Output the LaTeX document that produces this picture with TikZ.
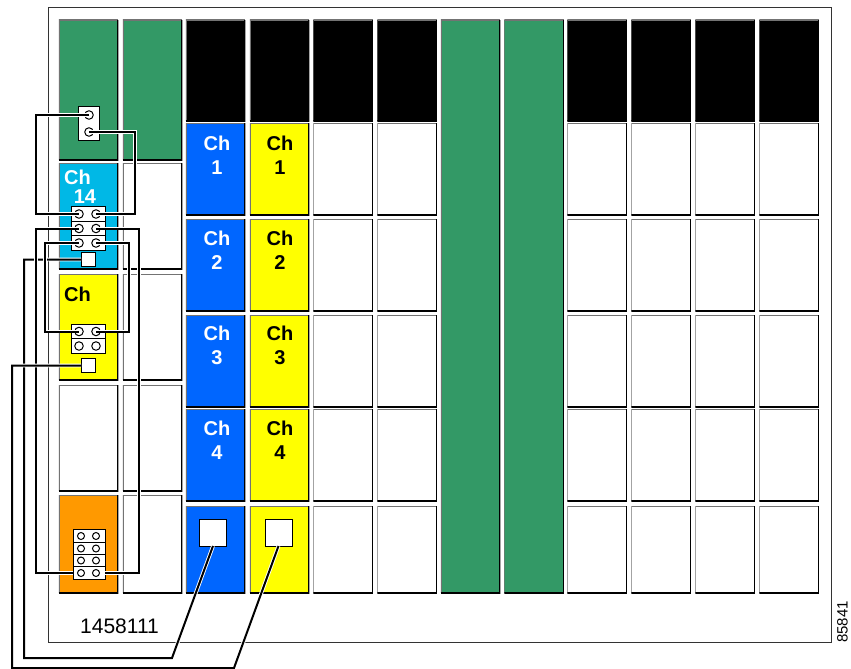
\documentclass[tikz,border=0pt]{standalone}
\usepackage{fontspec}
\setmainfont{Liberation Sans}
\definecolor{slotgreen}{RGB}{51,153,102}
\definecolor{slotblue}{RGB}{0,102,255}
\definecolor{slotcyan}{RGB}{0,184,230}
\definecolor{slotorange}{RGB}{255,153,0}
\definecolor{slotyellow}{RGB}{255,255,0}
\usetikzlibrary{positioning}
\tikzset{
  tilebox/.style={fill=white, inner sep=0pt, outer sep=0pt,
    minimum width=59.5pt,
    path picture={
      \draw[black!55, line width=2.4pt] (path picture bounding box.south west)
        -- (path picture bounding box.north west) -- (path picture bounding box.north east);
      \draw[black, line width=2pt] (path picture bounding box.south west)
        -- (path picture bounding box.south east) -- (path picture bounding box.north east);
    }},
  chlabel/.style={align=center, inner sep=0pt, font=\fontsize{20}{24}\selectfont\bfseries},
  pinrow/.style={draw, line width=1pt, fill=white, inner sep=0pt, outer sep=0pt},
  pin/.style={circle, draw, line width=1pt, fill=white, inner sep=0pt, minimum size=8.5pt},
  portbox/.style={draw, line width=1pt, fill=white, inner sep=0pt, outer sep=0pt},
  wire/.style={preaction={draw, white, line width=3.8pt}, draw, black, line width=2pt},
}
\begin{document}
\begin{tikzpicture}[x=1pt, y=-1pt]
  \useasboundingbox (0,0) rectangle (851,669);
  % Chassis
  \node[draw=black!80, line width=0.9pt, inner sep=0pt, minimum width=783pt, minimum height=635pt] (chassis) at (439.5,324.5) {};

  % Top row
  \foreach \cx/\nm in {215.5/c, 279.5/d, 343/e, 407/f, 597/i, 661/j, 725/k, 789/l}
    \node[tilebox, fill=black, minimum height=101pt] (top\nm) at (\cx,70.5) {};
  \foreach \cx/\nm in {88.5/a, 152.5/b}
    \node[tilebox, fill=slotgreen, minimum height=140pt] (top\nm) at (\cx,90) {};
  \foreach \cx/\nm in {470.5/g, 534/h}
    \node[tilebox, fill=slotgreen, minimum height=573pt] (top\nm) at (\cx,306.5) {};

  % Empty slots
  \foreach \cx/\nm in {343/e, 407/f, 597/i, 661/j, 725/k, 789/l}
    \foreach \cy/\hgt/\rw in {169/92/1, 265/92/2, 361/92/3, 455/92/4, 549.5/87/5}
      \node[tilebox, minimum height=\hgt pt] (slot\nm\rw) at (\cx,\cy) {};
  \foreach \cy/\hgt/\rw in {216/106/1, 327/106/2, 438/106/3, 544/98/4}
    \node[tilebox, minimum height=\hgt pt] (slotb\rw) at (152.5,\cy) {};

  % Left column
  \node[tilebox, fill=slotcyan, minimum height=106pt] (cyan) at (88.5,216) {};
  \node[tilebox, fill=slotyellow, minimum height=106pt] (yel) at (88.5,327) {};
  \node[tilebox, minimum height=106pt] (emptya) at (88.5,438) {};
  \node[tilebox, fill=slotorange, minimum height=98pt] (orange) at (88.5,544) {};

  % Blue and yellow columns
  \foreach \cy/\hgt/\rw in {169/92/1, 265/92/2, 361/92/3, 455/92/4, 549.5/87/5} {
    \node[tilebox, fill=slotblue, minimum height=\hgt pt] (blue\rw) at (215.5,\cy) {};
    \node[tilebox, fill=slotyellow, minimum height=\hgt pt] (ylw\rw) at (279.5,\cy) {};
  }
  \foreach \cy/\nr in {155/1, 250/2, 345/3, 440/4} {
    \node[chlabel, white] (bl\nr) at (217,\cy) {Ch\\\nr};
    \node[chlabel] (yl\nr) at (280,\cy) {Ch\\\nr};
  }
  \node[chlabel, white, anchor=west] (chcyan) at (64,177) {Ch};
  \node[chlabel, white] (numcyan) at (85,197) {14};
  \node[chlabel, anchor=west] (chyel) at (64,294) {Ch};

  % Pin blocks
  \node[pinrow, minimum width=21pt, minimum height=34pt] (topblock) at (88.5,123) {};
  \node[pin] (ta) at (89,115) {};
  \node[pin] (tb) at (89,132) {};
  \foreach \rw/\cy in {1/214, 2/228.5, 3/243} {
    \node[pinrow, minimum width=34pt, minimum height=14.5pt] (crow\rw) at (88,\cy) {};
    \node[pin] (cl\rw) at (79,\cy) {};
    \node[pin] (cr\rw) at (96,\cy) {};
  }
  \foreach \rw/\cy in {1/331.5, 2/346} {
    \node[pinrow, minimum width=34pt, minimum height=14.5pt] (yrow\rw) at (88,\cy) {};
    \node[pin] (yl\rw) at (79,\cy) {};
    \node[pin] (yr\rw) at (96,\cy) {};
  }
  \foreach \rw/\cy in {1/536, 2/548.5, 3/560.5, 4/573} {
    \node[pinrow, minimum width=32pt, minimum height=12.3pt] (orow\rw) at (89,\cy) {};
    \node[pin, minimum size=7pt] (ol\rw) at (81,\cy) {};
    \node[pin, minimum size=7pt] (or\rw) at (96,\cy) {};
  }

  % Ports
  \node[portbox, minimum size=14pt] (pcyan) at (88,259.5) {};
  \node[portbox, minimum size=14pt] (pyel) at (88,365.5) {};
  \node[portbox, minimum size=27pt] (pblue) at (213,532.5) {};
  \node[portbox, minimum size=27pt] (pylw) at (278.5,532.5) {};

  % Routing points
  \coordinate (railw) at (36,170);
  \coordinate (raile) at (135,170);
  \coordinate (railx) at (36,400);
  \coordinate (raily) at (139,400);
  \coordinate (railm) at (45,290);
  \coordinate (railn) at (129,290);
  \coordinate (raila) at (24,450);
  \coordinate (railb) at (12,500);
  \coordinate (kneea) at (172,658);
  \coordinate (kneeb) at (234,668);

  % Cables
  \draw[wire] (pcyan.west) -| (raila) |- (kneea) -- (pblue.south);
  \draw[wire] (ta.center) -| (railw) |- (cl1.center);
  \draw[wire] (tb.center) -| (raile) |- (cr1.center);
  \draw[wire] (cl2.center) -| (railx) |- (orow4.west);
  \draw[wire] (cr2.center) -| (raily) |- (orow4.east);
  \draw[wire] (cl3.center) -| (railm) |- (yl1.center);
  \draw[wire] (cr3.center) -| (railn) |- (yr1.center);
  \draw[wire] (pyel.west) -| (railb) |- (kneeb) -- (pylw.south);

  % Figure numbers
  \node[font=\fontsize{21}{24}\selectfont, inner sep=0pt] (partno) at (119.5,626) {1458111};
  \node[font=\fontsize{15}{18}\selectfont, inner sep=0pt, rotate=90] (figno) at (842.5,622) {85841};
\end{tikzpicture}
\end{document}
